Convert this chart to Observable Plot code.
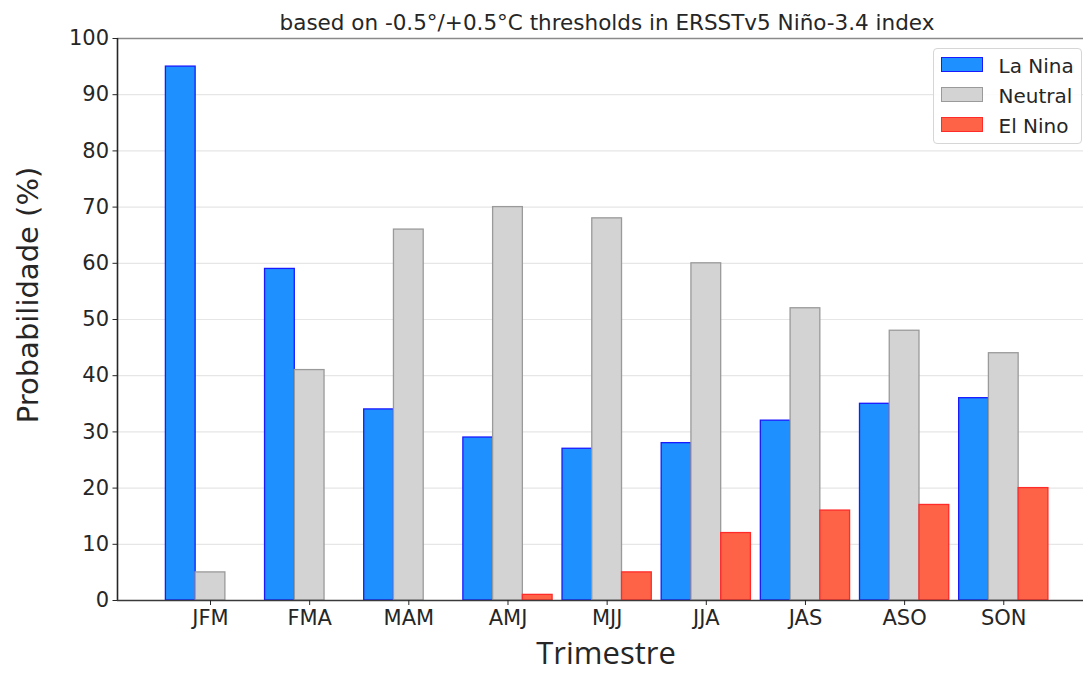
<!DOCTYPE html>
<html>
<head>
<meta charset="utf-8">
<script src="https://cdn.jsdelivr.net/npm/d3@7"></script>
<script src="https://cdn.jsdelivr.net/npm/@observablehq/plot@0.6"></script>
<style>
  html, body { margin: 0; padding: 0; background: #fff; }
  #wrap { position: relative; width: 1083px; height: 674px; overflow: hidden; font-family: "DejaVu Sans", sans-serif; color: #262626; }
  #chart svg { position: absolute; left: 0; top: 0; }
  .lbl { position: absolute; white-space: nowrap; line-height: 1; }
  #legend { position: absolute; left: 933px; top: 48px; width: 149px; height: 96px; border: 1px solid #d6d6d6; border-radius: 4px; background: rgba(255,255,255,0.85); box-sizing: border-box; }
  .item { position: absolute; left: 7px; height: 15px; }
  .sw { position: absolute; left: 0; top: 0; width: 42px; height: 15px; box-sizing: border-box; border: 1.3px solid; }
  .it { position: absolute; left: 57.5px; top: -1px; font-size: 20px; line-height: 1; white-space: nowrap; }
</style>
</head>
<body>
<div id="wrap">
  <div id="chart"></div>
  <div class="lbl" id="title" style="font-size:21.5px;">based on -0.5°/+0.5°C thresholds in ERSSTv5 Niño-3.4 index</div>
  <div class="lbl" id="ylabel" style="font-size:29px;">Probabilidade (%)</div>
  <div class="lbl" id="xlabel" style="font-size:31px; font-family: 'Open Sans', sans-serif;">Trimestre</div>
  <div id="legend"></div>
</div>
<script>
// ---- data ----
const trimestres = ["JFM", "FMA", "MAM", "AMJ", "MJJ", "JJA", "JAS", "ASO", "SON"];
const series = ["La Nina", "Neutral", "El Nino"];
const laNina  = [95, 59, 34, 29, 27, 28, 32, 35, 36];
const neutral = [5, 41, 66, 70, 68, 60, 52, 48, 44];
const elNino  = [0, 0, 0, 1, 5, 12, 16, 17, 20];
const yTicks = [0, 10, 20, 30, 40, 50, 60, 70, 80, 90, 100];

// ---- styles ----
const fills   = {"La Nina": "#1e90ff", "Neutral": "#d3d3d3", "El Nino": "#ff6347"};
const strokes = {"La Nina": "#1a1aff", "Neutral": "#9a9a9a", "El Nino": "#ff2a2a"};
const barWidth = 0.3;

const valuesBySeries = {"La Nina": laNina, "Neutral": neutral, "El Nino": elNino};
const table = [];
series.forEach((s, j) => {
  valuesBySeries[s].forEach((v, i) => {
    const x1 = i + (j - 1) * barWidth - barWidth / 2;
    table.push({trimestre: trimestres[i], series: s, x1, x2: x1 + barWidth, value: v});
  });
});

const xDomain = [-0.938, 8.804];

const chart = Plot.plot({
  width: 1083,
  height: 674,
  marginTop: 38,
  marginBottom: 74,
  marginLeft: 117,
  marginRight: 0,
  style: {fontFamily: "DejaVu Sans, sans-serif", fontSize: "21px", color: "#262626", background: "transparent"},
  x: {domain: xDomain, axis: null},
  y: {domain: [0, 100], axis: null},
  marks: [
    Plot.gridY(yTicks, {stroke: "#e6e6e6", strokeOpacity: 1, strokeWidth: 1.2}),
    ...series.map(s => Plot.rectY(table.filter(d => d.series === s), {
      x1: "x1", x2: "x2", y1: 0, y2: "value",
      fill: fills[s], stroke: strokes[s], strokeWidth: 1.3
    })),
    Plot.ruleY([100], {stroke: "#8a8a8a", strokeWidth: 1.6}),
    Plot.ruleX([xDomain[0]], {stroke: "#262626", strokeWidth: 1.6}),
    Plot.ruleY([0], {stroke: "#3a3a3a", strokeWidth: 1.6}),
    Plot.axisY({ticks: yTicks, tickSize: 4.5, tickPadding: 4, fontSize: 21, label: null, tickFormat: d => String(d)}),
    Plot.axisX({ticks: d3.range(trimestres.length), tickFormat: i => trimestres[i], tickSize: 5, tickPadding: 5, fontSize: 21, label: null})
  ]
});
document.getElementById("chart").appendChild(chart);

// ---- overlays ----
const title = document.getElementById("title");
title.style.left = "607px"; title.style.top = "12px"; title.style.transform = "translateX(-50%)";
const yl = document.getElementById("ylabel");
yl.style.left = "28px"; yl.style.top = "295px"; yl.style.transform = "translate(-50%,-50%) rotate(-90deg)";
const xl = document.getElementById("xlabel");
xl.style.left = "606px"; xl.style.top = "637px"; xl.style.transform = "translateX(-50%)";

const legend = document.getElementById("legend");
series.forEach((s, j) => {
  const item = document.createElement("div");
  item.className = "item";
  item.style.top = (8.3 + j * 30) + "px";
  const sw = document.createElement("div");
  sw.className = "sw";
  sw.style.background = fills[s];
  sw.style.borderColor = strokes[s];
  const t = document.createElement("div");
  t.className = "it";
  t.textContent = s;
  item.appendChild(sw); item.appendChild(t);
  legend.appendChild(item);
});
</script>
</body>
</html>
